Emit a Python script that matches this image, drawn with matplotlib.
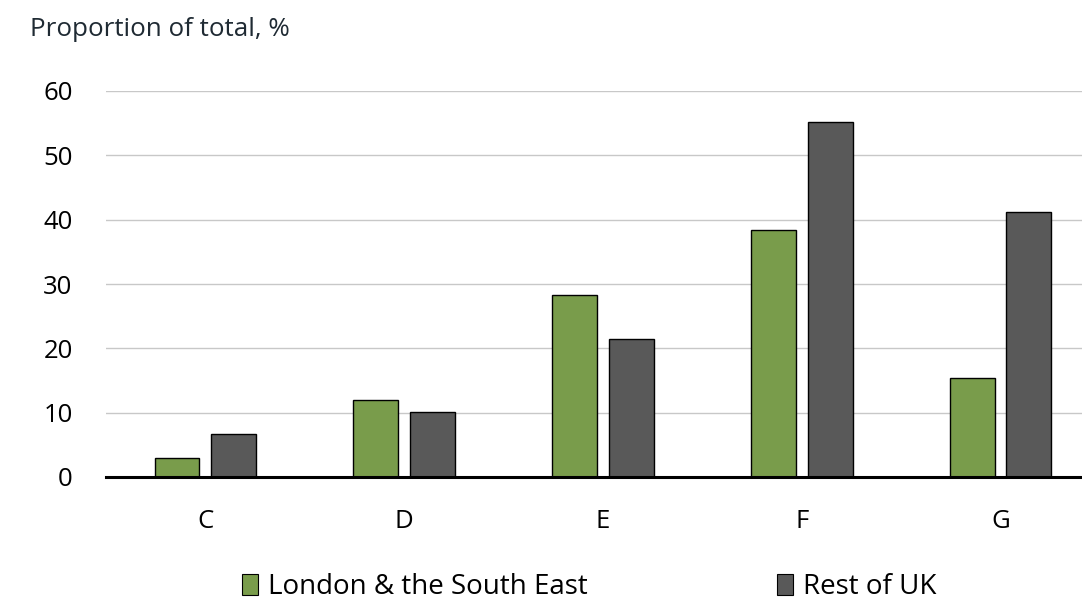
import numpy as np
import matplotlib.pyplot as plt
from matplotlib.patches import Patch

plt.rcParams['font.family'] = ['Open Sans', 'DejaVu Sans']

# 能效等级分布
bands = ['C', 'D', 'E', 'F', 'G']
london_se = [3.0, 12.0, 28.3, 38.4, 15.4]
rest_uk = [6.7, 10.1, 21.5, 55.2, 41.2]
yticks = [0, 10, 20, 30, 40, 50, 60]

GREEN = '#799c4b'
GREY = '#595959'

fig = plt.figure(figsize=(10.82, 6.01), dpi=100)
ax = fig.add_axes([106 / 1082, 1 - 477 / 601, 1 - 106 / 1082, (477 - 91) / 601])

x = np.arange(len(bands))
w = 0.226
off = 0.143
ax.bar(x - off, london_se, w, color=GREEN, edgecolor='black', linewidth=1.0, zorder=3)
ax.bar(x + off, rest_uk, w, color=GREY, edgecolor='black', linewidth=1.0, zorder=3)

ax.set_xlim(-0.5, 4.41)
ax.set_ylim(0, 60)
ax.set_yticks(yticks)
ax.set_xticks(x)
ax.set_xticklabels(bands)
ax.grid(axis='y', color='#c8c8c8', linewidth=1.0, zorder=0)
for s in ['top', 'right', 'left']:
    ax.spines[s].set_visible(False)
ax.spines['bottom'].set_linewidth(2.2)
ax.spines['bottom'].set_zorder(4)
ax.tick_params(axis='both', length=0, labelsize=18.5, colors='black')
ax.tick_params(axis='y', pad=24)
ax.tick_params(axis='x', pad=23)

fig.text(30 / 1082, 1 - 29 / 601, 'Proportion of total, %', fontsize=18.7,
         color='#1f2a33', va='center', ha='left')

handles = [Patch(facecolor=GREEN, edgecolor='black', linewidth=0.8),
           Patch(facecolor=GREY, edgecolor='black', linewidth=0.8)]
fig.legend(handles, ['London & the South East', 'Rest of UK'], ncol=2,
           loc='center', bbox_to_anchor=(589 / 1082, 1 - 587 / 601),
           frameon=False, fontsize=20, handlelength=0.6, handleheight=0.8,
           handletextpad=0.35, columnspacing=6.8)

fig.savefig('out.png', dpi=100)
